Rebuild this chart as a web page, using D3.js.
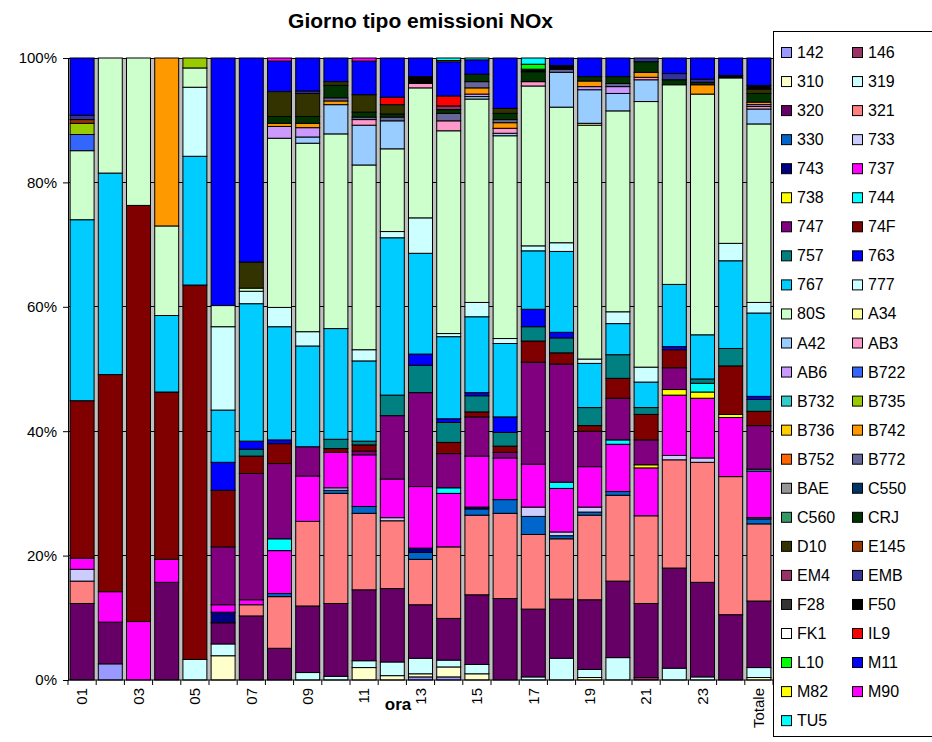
<!DOCTYPE html>
<html><head><meta charset="utf-8">
<script src="https://cdn.jsdelivr.net/npm/d3@7"></script>
<style>body{margin:0;background:#fff;} text{font-family:"Liberation Sans",Arial,sans-serif;}</style>
</head><body><svg id="c" width="932" height="742"></svg>
<script>
const categories = ["01","02","03","04","05","06","07","08","09","10","11","12","13","14","15","16","17","18","19","20","21","22","23","24","Totale"];
const tickLabels = ["01","03","05","07","09","11","13","15","17","19","21","23","Totale"];
const yTicks = [0, 0.2, 0.4, 0.6, 0.8, 1];
const seriesNames = ["142","146","310","319","320","321","330","733","743","737","738","744","747","74F","757","763","767","777","80S","A34","A42","AB3","AB6","B722","B732","B735","B736","B742","B752","B772","BAE","C550","C560","CRJ","D10","E145","EM4","EMB","F28","F50","FK1","IL9","L10","M11","M82","M90","TU5"];
const seriesColors = ["#9999FF","#993366","#FFFFCC","#CCFFFF","#660066","#FF8080","#0066CC","#CCCCFF","#000080","#FF00FF","#FFFF00","#00FFFF","#800080","#800000","#008080","#0000FF","#00CCFF","#CCFFFF","#CCFFCC","#FFFF99","#99CCFF","#FF99CC","#CC99FF","#3366FF","#33CCCC","#99CC00","#FFCC00","#FF9900","#FF6600","#666699","#969696","#003366","#339966","#003300","#333300","#993300","#993366","#333399","#333333","#000000","#FFFFFF","#FF0000","#00FF00","#0000FF","#FFFF00","#FF00FF","#00FFFF"];

// values (% of the hour's NOx) per series, one entry per category
const v142  = [0,2.6,0,0,0,0,0,0,0,0,0,0,0.5,0.5,0,0,0,0,0,0,0,0,0,0,0];
const v146  = [0,0,0,0,0,0,0,0,0,0,0,0,0,0,0,0,0,0,0,0,0.4,0,0,0,0];
const v310  = [0,0,0,0,0,3.9,0,0,0,0,2.0,0.7,0.5,1.6,1.0,0,0,0,0.4,0,0,0,0,0,0.4];
const v319  = [0,0,0,0,3.3,1.9,0,0,1.2,0.6,1.1,2.2,2.5,1.1,1.5,0,0.5,3.5,1.3,3.6,0,1.9,0.5,0,1.6];
const v320  = [12.3,6.7,0,15.7,0,3.4,10.3,5.1,10.7,11.7,11.4,11.8,8.6,6.7,11.2,13.1,10.9,9.5,11.2,12.3,11.9,16.1,15.2,10.5,10.7];
const v321  = [3.6,0,0,0,0,0,1.8,8.3,13.6,17.7,12.3,10.9,7.3,11.5,12.8,13.7,12.0,9.7,13.6,13.8,14.1,17.4,19.3,22.2,12.4];
const v330  = [0,0,0,0,0,0,0,0.5,0,0.5,1.1,0,1.1,0,1.0,2.2,2.9,0.5,0.5,0.6,0,0,0,0,0.8];
const v733  = [1.9,0,0,0,0,0,0,0,0,0.4,0,0.5,0,0,0,0,1.5,0.6,0.8,0,0,0.7,0.7,0,0.2];
const v743  = [0,0,0,0,0,1.7,0,0,0,0,0,0,0.7,0,0.3,0,0,0,0,0,0,0,0,0,0];
const v737  = [1.8,4.9,9.4,3.7,0,1.2,0.8,6.9,7.3,5.7,8.3,6.2,9.9,8.6,8.2,6.7,6.9,7.0,6.5,7.6,7.7,9.7,9.6,9.5,7.5];
const v738  = [0,0,0,0,0,0,0,0,0,0,0,0,0,0,0,0,0,0,0,0,0.5,0.9,1.0,0.5,0];
const v744  = [0,0,0,0,0,0,0,1.9,0,0,0,0,0,0.9,0,0,0,1.0,0,0.7,0,0,1.4,0,0.3];
const v747  = [0,0,0,0,0,9.3,20.3,12.1,4.7,0,0.6,10.2,15.1,5.5,6.3,0.9,16.4,19.0,5.7,6.7,4.0,3.5,0,0,7.0];
const v74F  = [25.3,34.9,66.9,26.9,60.2,9.1,2.8,3.2,0,0.6,1.0,0,0,1.8,0.8,1.0,3.4,1.8,0.9,3.2,4.1,2.9,0,7.8,2.3];
const v757  = [0,0,0,0,0,0,1.1,0,0,1.5,0.6,3.3,4.4,3.2,2.6,2.2,2.3,2.4,2.9,3.8,1.1,0,0.7,2.8,1.9];
const v763  = [0,0,0,0,0,4.5,1.3,0.6,0,0,0,0,1.8,0.6,0.5,2.5,2.8,0.9,0,0,0,0.5,0,0,0.5];
const v767  = [29.1,32.4,0,12.3,20.7,8.4,22.1,18.2,16.2,17.8,12.9,25.3,16.2,13.2,12.2,11.8,9.4,13.0,7.1,5.0,4.1,10.0,7.1,14.1,13.4];
const v777  = [0,0,0,0,11.1,13.4,2.0,3.1,2.3,0,1.8,1.0,5.7,0.5,2.3,0.8,0.8,1.4,0.7,1.9,2.4,0,0,2.8,1.7];
const v80S  = [11.1,18.5,23.7,14.4,3.1,3.4,0.5,27.2,30.3,31.3,29.7,13.3,20.9,32.6,32.7,32.6,25.7,21.8,37.6,32.3,42.7,32.1,38.7,26.6,28.7];
const vA34  = [0,0,0,0,0,0,0,0,0,0,0,0,0,0,0,0,0,0,0.3,0,0,0,0,0,0];
const vA42  = [0,0,0,0,0,0,0,0,1.0,4.7,6.4,4.5,0,0,0.4,0.4,0,5.6,5.4,2.8,3.5,0,0,0,2.4];
const vAB3  = [0,0,0,0,0,0,0,0,0,0,0.9,0,0.7,1.6,0,0.8,0.7,0,0,0,0.4,0,0,0,0.4];
const vAB6  = [0,0,0,0,0,0,0,1.9,1.5,0,0,0,0,0,0.4,0,0,0,0.5,1.1,0,0,0,0,0.3];
const vB722 = [2.6,0,0,0,0,0,0,0,0,0,0,0,0,0,0,0,0,0,0,0,0,0,0,0,0];
const vB732 = [0,0,0,0,0,0,0,0,0,0,0,0,0,0,0,0,0,0,0,0,0,0,0,0,0];
const vB735 = [1.8,0,0,0,1.6,0,0,0,0,0,0,0,0,0,0,0,0,0,0,0,0,0,0,0,0];
const vB736 = [0,0,0,0,0,0,0,0,0,0,0,0,0,0,0,0,0,0,0,0,0,0,0,0,0];
const vB742 = [0,0,0,27.0,0,0,0,0.5,0.7,0.6,0,0,0,0,1.0,0.9,0,0,0.9,0,0.8,0,1.5,0,0.4];
const vB752 = [0,0,0,0,0,0,0,0,0,0,0,0,0,0,0,0,0,0,0,0,0,0,0,0,0];
const vB772 = [0,0,0,0,0,0,0,0,0,0.5,0.4,0.6,0,1.2,1.0,0.5,0,0.5,0,0.5,0,0,0,0,0];
const vBAE  = [0,0,0,0,0,0,0,0,0,0,0,0,0,0,0,0,0,0,0,0,0,0,0,0,0];
const vC550 = [0,0,0,0,0,0,0,0,0,0,0,0,0,0,0,0,0,0,0,0,0,0,0,0,0];
const vC560 = [0,0,0,0,0,0,0,0,0,0,0,0,0,0,0,0,0,0,0,0,0,0,0,0,0];
const vCRJ  = [0,0,0,0,0,0,0,1.1,1.1,2.0,0.8,0.5,0,0.6,1.2,1.0,1.6,0,0.7,1.1,1.7,0.8,0.4,0,1.4];
const vD10  = [0,0,0,0,0,0,4.2,4.0,3.7,0.6,2.8,1.5,0,0,0,0.8,0,0,0,0,0,0,0,0,0.7];
const vE145 = [0.6,0,0,0,0,0,0,0,0,0,0,0,0,0,0,0,0,0,0,0,0,0,0,0,0];
const vEM4  = [0,0,0,0,0,0,0,0,0,0,0,0,0,0.6,0,0,0,0,0,0,0,0,0,0,0];
const vEMB  = [0.7,0,0,0,0,0,0,0,0.4,0,0,0,0,0,0,0,0,0,0,0,0.6,1.0,0.5,0,0];
const vF28  = [0,0,0,0,0,0,0,0,0,0,0,0,0,0,0,0,0,0,0,0,0,0,0,0,0];
const vF50  = [0,0,0,0,0,0,0,0,0,0,0,0,1.1,0,0,0,0.4,0.6,0,0,0,0,0,0.4,0.6];
const vFK1  = [0,0,0,0,0,0,0,0,0,0,0,0,0,0,0,0,0,0,0,0,0,0,0,0,0];
const vIL9  = [0,0,0,0,0,0,0,0,0,0,0,1.2,0,1.6,0,0,0,0,0,0,0,0,0,0,0];
const vL10  = [0,0,0,0,0,0,0,0,0,0,0,0,0,0,0,0,0.8,0,0,0,0,0,0,0,0];
const vM11  = [9.2,0,0,0,0,39.8,32.8,4.9,5.3,3.8,5.4,6.3,3.0,5.5,2.3,8.1,0,1.2,3.0,3.0,0,2.5,3.4,2.8,4.4];
const vM82  = [0,0,0,0,0,0,0,0,0,0,0,0,0,0.2,0,0,0,0,0,0,0,0,0,0,0];
const vM90  = [0,0,0,0,0,0,0,0.5,0,0,0.5,0,0,0,0,0,0,0,0,0,0,0,0,0,0];
const vTU5  = [0,0,0,0,0,0,0,0,0,0,0,0,0,0.4,0.3,0,1.0,0,0,0,0,0,0,0,0];

const seriesValues = [v142,v146,v310,v319,v320,v321,v330,v733,v743,v737,v738,v744,v747,v74F,v757,v763,v767,v777,v80S,vA34,vA42,vAB3,vAB6,vB722,vB732,vB735,vB736,vB742,vB752,vB772,vBAE,vC550,vC560,vCRJ,vD10,vE145,vEM4,vEMB,vF28,vF50,vFK1,vIL9,vL10,vM11,vM82,vM90,vTU5];

const table = categories.map((c, i) => {
  const row = {cat: c};
  seriesNames.forEach((s, j) => row[s] = seriesValues[j][i]);
  return row;
});

const svg = d3.select("#c");
const L = 68, R = 773, T = 58, B = 680;
const x = d3.scaleBand().domain(categories).range([L, R]).paddingInner(0.15).paddingOuter(0.075);
const y = d3.scaleLinear().domain([0, 1]).range([B, T]);
const color = d3.scaleOrdinal().domain(seriesNames).range(seriesColors);

// plot area
svg.append("rect").attr("x", L).attr("y", T).attr("width", R - L).attr("height", B - T)
  .attr("fill", "#C0C0C0");
svg.append("g").selectAll("line").data(yTicks.slice(1)).join("line")
  .attr("x1", L).attr("x2", R).attr("y1", d => y(d)).attr("y2", d => y(d))
  .attr("stroke", "#000").attr("stroke-width", 1).attr("shape-rendering", "crispEdges");

const stack = d3.stack().keys(seriesNames).offset(d3.stackOffsetExpand);
const layers = stack(table);

svg.append("g").selectAll("g").data(layers).join("g")
  .attr("fill", d => color(d.key))
  .selectAll("rect").data(d => d.filter(p => p[1] - p[0] > 0)).join("rect")
  .attr("x", d => x(d.data.cat))
  .attr("width", x.bandwidth())
  .attr("y", d => y(d[1]))
  .attr("height", d => y(d[0]) - y(d[1]))
  .attr("stroke", "#000").attr("stroke-width", 1);

// y axis
const yAxis = d3.axisLeft(y).tickValues(yTicks).tickFormat(d3.format(".0%")).tickSize(5).tickPadding(6);
const gy = svg.append("g").attr("transform", `translate(${L},0)`).call(yAxis);
gy.select(".domain").attr("stroke", "#000");
gy.selectAll("text").attr("font-size", 15).attr("fill", "#000").attr("font-family", "Liberation Sans, Arial, sans-serif");

// x axis
svg.append("line").attr("x1", L).attr("x2", R).attr("y1", B).attr("y2", B).attr("stroke", "#000");
const bounds = d3.range(categories.length + 1).map(i => x.range()[0] + i * x.step());
svg.append("g").selectAll("line").data(bounds).join("line")
  .attr("x1", d => d).attr("x2", d => d).attr("y1", B).attr("y2", B + 5).attr("stroke", "#000");
svg.append("g").selectAll("text").data(tickLabels).join("text")
  .attr("transform", d => `translate(${x(d) + x.bandwidth() / 2},688) rotate(-90)`)
  .attr("text-anchor", "end").attr("dy", "0.35em").attr("font-size", 15).text(d => d);

svg.append("text").attr("x", 398).attr("y", 710).attr("text-anchor", "middle")
  .attr("font-weight", "bold").attr("font-size", 17).text("ora");
svg.append("text").attr("x", (L + R) / 2).attr("y", 28).attr("text-anchor", "middle")
  .attr("font-weight", "bold").attr("font-size", 21).text("Giorno tipo emissioni NOx");

// legend
svg.append("rect").attr("x", 773.5).attr("y", 31.5).attr("width", 170).attr("height", 705)
  .attr("fill", "#fff").attr("stroke", "#000");
const lg = svg.append("g").selectAll("g").data(seriesNames).join("g")
  .attr("transform", (d, i) => `translate(${781 + (i % 2) * 71},${52 + Math.floor(i / 2) * 29.05})`);
lg.append("rect").attr("x", 0.5).attr("y", -4.5).attr("width", 10).attr("height", 10)
  .attr("fill", d => color(d)).attr("stroke", "#000");
lg.append("text").attr("x", 16).attr("y", 6).attr("font-size", 16).text(d => d);
</script></body></html>
